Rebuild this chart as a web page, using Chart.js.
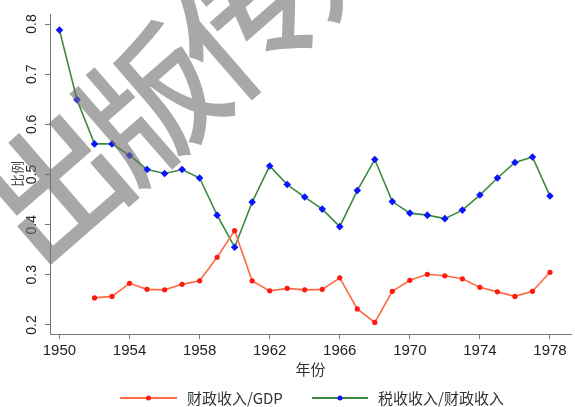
<!DOCTYPE html>
<html>
<head>
<meta charset="utf-8">
<script src="https://cdn.jsdelivr.net/npm/chart.js@4/dist/chart.umd.min.js"></script>
<style>
  html, body { margin: 0; padding: 0; background: #fff; }
  #c { display: block; }
</style>
</head>
<body>
<canvas id="c" width="575" height="407"></canvas>
<script>
// Years on the horizontal axis
const years = [1950, 1951, 1952, 1953, 1954, 1955, 1956, 1957, 1958, 1959,
               1960, 1961, 1962, 1963, 1964, 1965, 1966, 1967, 1968, 1969,
               1970, 1971, 1972, 1973, 1974, 1975, 1976, 1977, 1978];

// 财政收入/GDP (no figures for 1950–1951)
const revenueToGdp = [null, null, 0.254, 0.257, 0.283, 0.271, 0.270, 0.281, 0.288, 0.335,
                      0.388, 0.288, 0.268, 0.273, 0.270, 0.271, 0.294, 0.232, 0.205, 0.267,
                      0.289, 0.301, 0.298, 0.292, 0.275, 0.266, 0.257, 0.267, 0.305];

// 税收收入/财政收入
const taxToRevenue = [0.788, 0.649, 0.561, 0.561, 0.538, 0.510, 0.502, 0.510, 0.493, 0.419,
                      0.355, 0.445, 0.517, 0.480, 0.455, 0.431, 0.396, 0.468, 0.530, 0.446,
                      0.423, 0.419, 0.412, 0.429, 0.459, 0.493, 0.524, 0.535, 0.457];

const xTicks = [1950, 1954, 1958, 1962, 1966, 1970, 1974, 1978];
const yTicks = [0.2, 0.3, 0.4, 0.5, 0.6, 0.7, 0.8];
const yTickLabels = ['0.2', '0.3', '0.4', '0.5', '0.6', '0.7', '0.8'];

const seriesNames = ['财政收入/GDP', '税收收入/财政收入'];
const xTitle = '年份';
const yTitle = '比例';
const watermark = '出版传媒';

const AXIS = '#777777';
const TEXT = '#222222';
const FONT = 'Liberation Sans, Arial, sans-serif';
const CJK = '"Noto Sans CJK SC", "Noto Sans", sans-serif';

const toPoints = (vals) => years.map((y, i) => ({ x: y, y: vals[i] }));

const decorations = {
  id: 'decorations',
  afterDraw(chart) {
    const ctx = chart.ctx;
    const ys = chart.scales.y;
    const area = chart.chartArea;

    ctx.save();
    // y tick labels, turned to read upward
    ctx.fillStyle = TEXT;
    ctx.font = '14px ' + FONT;
    ctx.textAlign = 'center';
    ctx.textBaseline = 'middle';
    yTicks.forEach((v, i) => {
      const py = ys.getPixelForValue(v);
      ctx.save();
      ctx.translate(32, py);
      ctx.rotate(-Math.PI / 2);
      ctx.fillText(yTickLabels[i], 0, 0);
      ctx.restore();
    });

    // y axis title
    ctx.save();
    ctx.fillStyle = '#444';
    ctx.font = '13px ' + CJK;
    ctx.translate(17, (area.top + area.bottom) / 2);
    ctx.rotate(-Math.PI / 2);
    ctx.fillText(yTitle, 0, 0);
    ctx.restore();

    // x axis title
    ctx.fillStyle = '#333';
    ctx.font = '15px ' + CJK;
    ctx.fillText(xTitle, (area.left + area.right) / 2, 369);

    // legend
    const ly = 398;
    const items = [
      { x0: 120, x1: 177, tx: 187, line: chart.data.datasets[0], name: seriesNames[0] },
      { x0: 312, x1: 368, tx: 378, line: chart.data.datasets[1], name: seriesNames[1] }
    ];
    items.forEach(it => {
      ctx.strokeStyle = it.line.borderColor;
      ctx.lineWidth = 2;
      ctx.beginPath();
      ctx.moveTo(it.x0, ly);
      ctx.lineTo(it.x1, ly);
      ctx.stroke();
      ctx.fillStyle = it.line.pointBackgroundColor;
      ctx.beginPath();
      ctx.arc((it.x0 + it.x1) / 2, ly, 2.5, 0, Math.PI * 2);
      ctx.fill();
      ctx.fillStyle = '#333';
      ctx.font = '15px ' + CJK;
      ctx.textAlign = 'left';
      ctx.fillText(it.name, it.tx, ly);
    });

    // publisher stamp across the upper left
    ctx.save();
    ctx.fillStyle = 'rgba(110,110,110,0.6)';
    ctx.font = '500 138px ' + CJK;
    ctx.textAlign = 'center';
    ctx.textBaseline = 'middle';
    ctx.translate(56, 186);
    ctx.rotate(-41 * Math.PI / 180);
    Array.from(watermark).forEach((ch, i) => ctx.fillText(ch, i * 126, 0));
    ctx.restore();

    ctx.restore();
  }
};

new Chart(document.getElementById('c'), {
  type: 'line',
  data: {
    datasets: [
      {
        label: seriesNames[0],
        data: toPoints(revenueToGdp),
        borderColor: '#ff6a45',
        borderWidth: 1.6,
        pointBackgroundColor: '#ff1a10',
        pointBorderColor: '#ff1a10',
        pointRadius: 2.6,
        pointBorderWidth: 0,
        pointStyle: 'circle',
        spanGaps: false,
        tension: 0
      },
      {
        label: seriesNames[1],
        data: toPoints(taxToRevenue),
        borderColor: '#3d8a3d',
        borderWidth: 1.6,
        pointBackgroundColor: '#0a14ff',
        pointBorderColor: '#0a14ff',
        pointRadius: 3.8,
        pointBorderWidth: 0,
        pointStyle: 'rectRot',
        tension: 0
      }
    ]
  },
  options: {
    responsive: false,
    animation: false,
    devicePixelRatio: 1,
    layout: { padding: { top: 14, left: 0, right: 0, bottom: 0 } },
    plugins: {
      legend: { display: false },
      tooltip: { enabled: false }
    },
    scales: {
      x: {
        type: 'linear',
        min: 1949.46,
        max: 1979.2,
        afterBuildTicks: (s) => { s.ticks = xTicks.map(v => ({ value: v })); },
        afterFit: (s) => { s.height = 73; },
        ticks: {
          autoSkip: false,
          maxRotation: 0,
          padding: 3,
          color: TEXT,
          font: { family: FONT, size: 15 },
          callback: (v) => String(v)
        },
        grid: { drawOnChartArea: false, drawTicks: true, tickLength: 5, color: AXIS },
        border: { color: AXIS, width: 1 }
      },
      y: {
        type: 'linear',
        min: 0.182,
        max: 0.82,
        afterBuildTicks: (s) => { s.ticks = yTicks.map(v => ({ value: v })); },
        afterFit: (s) => { s.width = 50; },
        ticks: { display: false },
        grid: { drawOnChartArea: false, drawTicks: true, tickLength: 5, color: AXIS },
        border: { color: AXIS, width: 1 }
      }
    }
  },
  plugins: [decorations]
});
</script>
</body>
</html>
